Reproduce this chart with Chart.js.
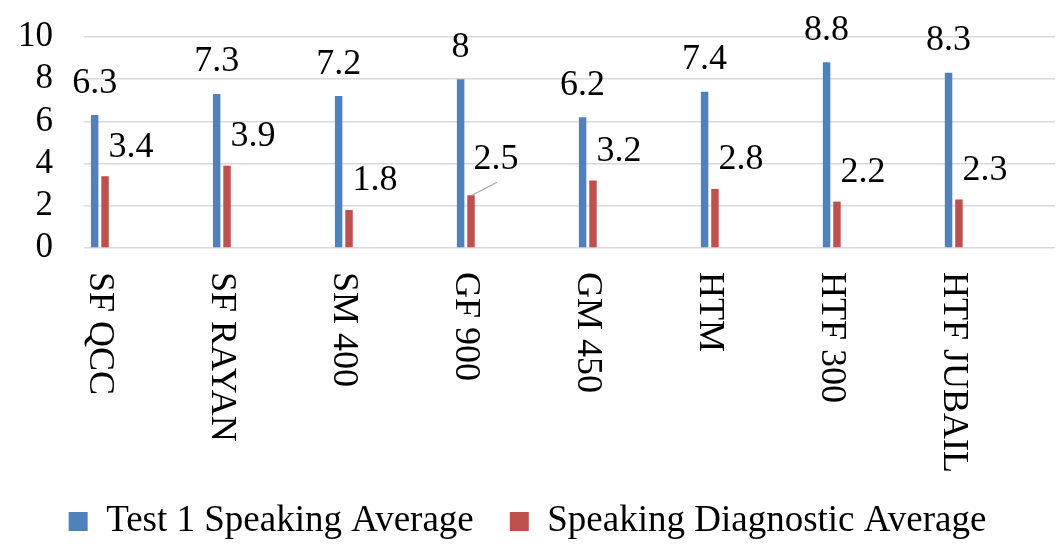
<!doctype html>
<html lang="en">
  <head>
    <meta charset="utf-8">
    <title>Speaking Averages</title>
    <style>
      * { margin: 0; padding: 0; }
      body { background: #ffffff; }
      .chartBox { width: 1057px; height: 550px; }
    </style>
  </head>
  <body>
    <div class="chartBox">
      <canvas id="myChart"></canvas>
    </div>
    <script src="https://cdn.jsdelivr.net/npm/chart.js"></script>
    <script>
    // data
    const sites = ['SF QCC', 'SF RAYAN', 'SM 400', 'GF 900', 'GM 450', 'HTM', 'HTF 300', 'HTF JUBAIL'];
    const test1Avg = [6.3, 7.3, 7.2, 8, 6.2, 7.4, 8.8, 8.3];
    const diagAvg = [3.4, 3.9, 1.8, 2.5, 3.2, 2.8, 2.2, 2.3];
    const yTicks = [0, 2, 4, 6, 8, 10];

    const FONT = "'Liberation Serif', 'Times New Roman', serif";

    // value labels: blue ones above the bar, red ones up and to the right
    const valueLabels = {
      id: 'valueLabels',
      afterDatasetsDraw(chart) {
        const ctx = chart.ctx;
        ctx.save();
        ctx.font = '36px ' + FONT;
        ctx.fillStyle = '#000';
        ctx.textAlign = 'center';
        ctx.textBaseline = 'middle';
        chart.data.datasets.forEach((ds, di) => {
          const meta = chart.getDatasetMeta(di);
          meta.data.forEach((bar, i) => {
            const txt = String(ds.data[i].y);
            if (di === 0) {
              ctx.fillText(txt, bar.x, bar.y - 32);
            } else if (i === 3) {
              // this one sits higher with a leader line
              ctx.strokeStyle = '#a6a6a6';
              ctx.lineWidth = 1.2;
              ctx.beginPath();
              ctx.moveTo(bar.x + 1, bar.y);
              ctx.lineTo(bar.x + 26, bar.y - 13);
              ctx.stroke();
              ctx.fillText(txt, bar.x + 25, bar.y - 36);
            } else {
              ctx.fillText(txt, bar.x + 26, bar.y - 29);
            }
          });
        });
        ctx.restore();
      }
    };

    // category labels, rotated clockwise (read top to bottom)
    const siteLabels = {
      id: 'siteLabels',
      afterDraw(chart) {
        const ctx = chart.ctx;
        const x = chart.scales.x;
        const top = chart.chartArea.bottom + 24;
        ctx.save();
        ctx.font = '36px ' + FONT;
        ctx.fillStyle = '#000';
        ctx.textAlign = 'left';
        ctx.textBaseline = 'middle';
        sites.forEach((s, i) => {
          ctx.save();
          ctx.translate(x.getPixelForValue(i), top);
          ctx.rotate(Math.PI / 2);
          ctx.fillText(s, 0, 0);
          ctx.restore();
        });
        ctx.restore();
      }
    };

    const data = {
      datasets: [{
        label: 'Test 1 Speaking Average',
        data: test1Avg.map((v, i) => ({ x: i, y: v })),
        backgroundColor: '#4f81bd',
        categoryPercentage: 0.205,
        barPercentage: 0.72
      }, {
        label: 'Speaking Diagnostic Average',
        data: diagAvg.map((v, i) => ({ x: i, y: v })),
        backgroundColor: '#c0504d',
        categoryPercentage: 0.205,
        barPercentage: 0.72
      }]
    };

    const config = {
      type: 'bar',
      data,
      options: {
        responsive: true,
        maintainAspectRatio: false,
        animation: false,
        layout: { padding: { top: 0, right: 2, left: 0, bottom: 0 } },
        scales: {
          x: {
            type: 'linear',
            offset: false,
            min: -0.13,
            max: 7.83,
            ticks: { display: false },
            grid: { display: false },
            border: { display: false },
            afterFit(scale) { scale.height = 219; }
          },
          y: {
            min: 0,
            max: 10,
            afterBuildTicks(scale) { scale.ticks = yTicks.map(v => ({ value: v })); },
            afterFit(scale) {
              scale.width = 84;
              scale.paddingTop = 37;
              scale.paddingBottom = 0;
            },
            ticks: {
              color: '#000',
              padding: 31,
              autoSkip: false,
              font: { family: FONT, size: 35 }
            },
            grid: { color: '#d9d9d9', lineWidth: 1.5, drawTicks: false },
            border: { display: false }
          }
        },
        plugins: {
          legend: {
            position: 'bottom',
            labels: {
              color: '#000',
              boxWidth: 19,
              boxHeight: 19,
              padding: 36,
              font: { family: FONT, size: 37 }
            }
          },
          tooltip: { enabled: false }
        }
      },
      plugins: [valueLabels, siteLabels]
    };

    const myChart = new Chart(document.getElementById('myChart'), config);
    </script>
  </body>
</html>
